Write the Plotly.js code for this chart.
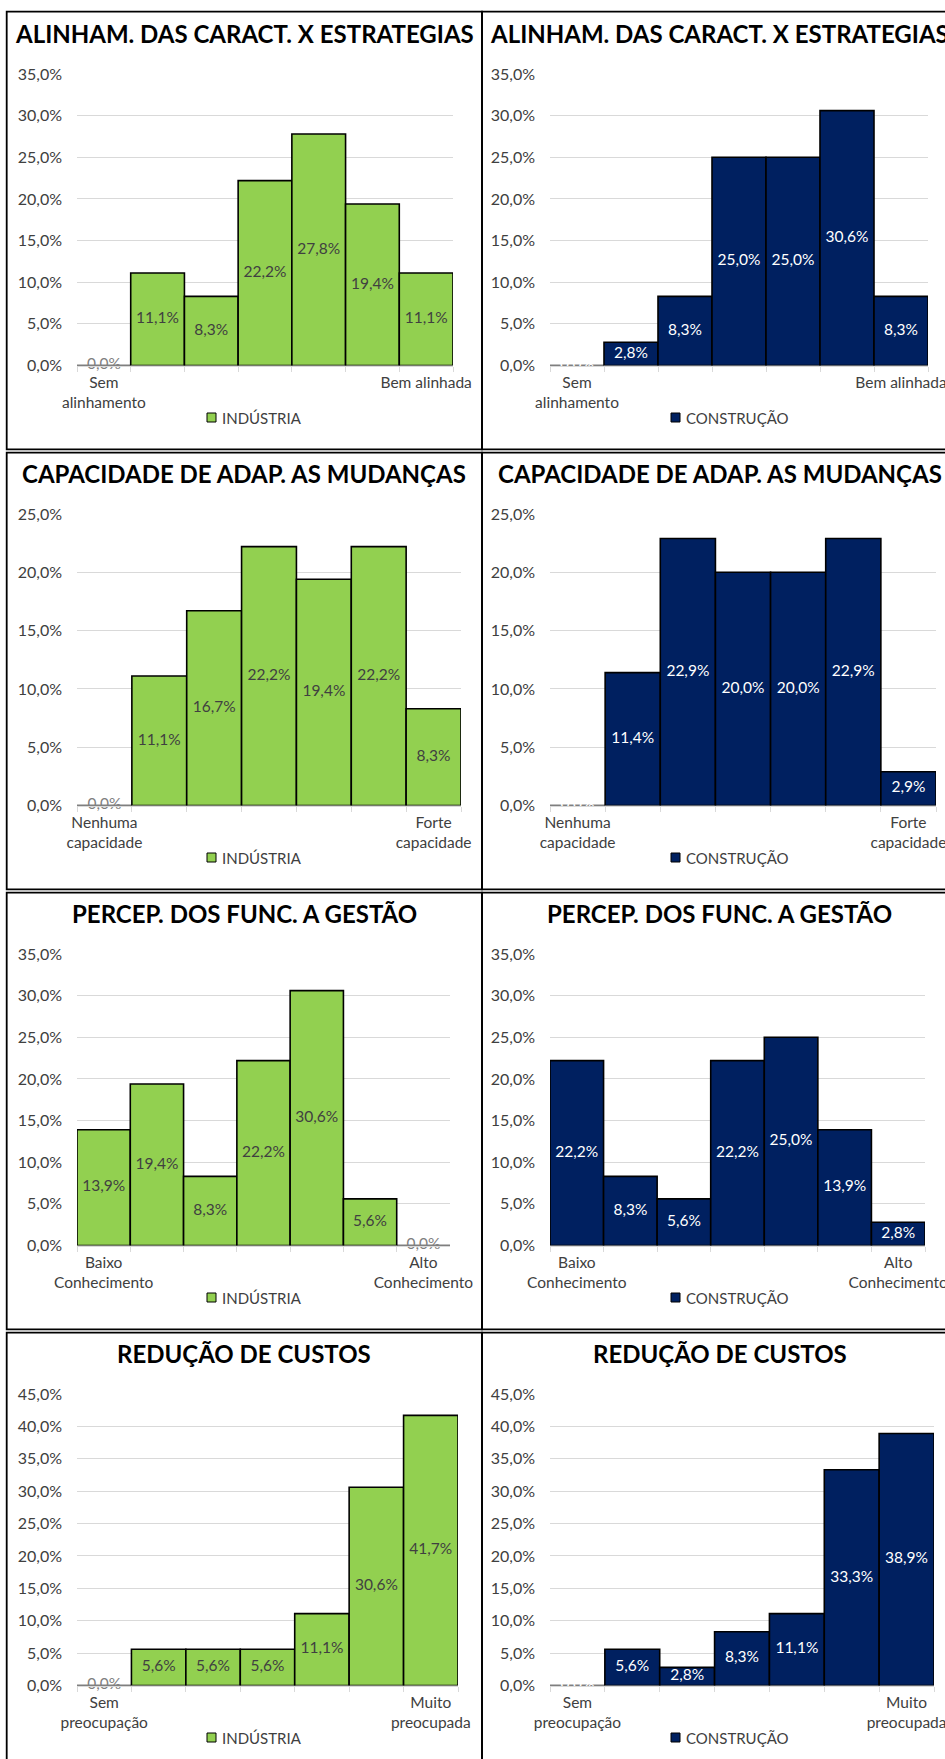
<!DOCTYPE html>
<html>
<head>
<meta charset="utf-8">
<script src="https://cdn.plot.ly/plotly-3.0.1.min.js"></script>
<style>
  html, body { margin: 0; padding: 0; background: #ffffff; }
  #chart { width: 945px; height: 1759px; }
</style>
</head>
<body>
<div id="chart"></div>
<script>
// Response scale: seven points from the lowest to the highest rating
const levels = ['1', '2', '3', '4', '5', '6', '7'];

// Scale end labels (only the first and last points are named)
const ticksAlinhamento = ['Sem<br>alinhamento', '', '', '', '', '', 'Bem alinhada'];
const ticksCapacidade = ['Nenhuma<br>capacidade', '', '', '', '', '', 'Forte<br>capacidade'];
const ticksPercepcao = ['Baixo<br>Conhecimento', '', '', '', '', '', 'Alto<br>Conhecimento'];
const ticksCustos = ['Sem<br>preocupação', '', '', '', '', '', 'Muito<br>preocupada'];

// Share of answers per scale point
const alinhamentoIndustria = [0.000, 0.111, 0.083, 0.222, 0.278, 0.194, 0.111];
const alinhamentoConstrucao = [0.000, 0.028, 0.083, 0.250, 0.250, 0.306, 0.083];
const capacidadeIndustria = [0.000, 0.111, 0.167, 0.222, 0.194, 0.222, 0.083];
const capacidadeConstrucao = [0.000, 0.114, 0.229, 0.200, 0.200, 0.229, 0.029];
const percepcaoIndustria = [0.139, 0.194, 0.083, 0.222, 0.306, 0.056, 0.000];
const percepcaoConstrucao = [0.222, 0.083, 0.056, 0.222, 0.250, 0.139, 0.028];
const custosIndustria = [0.000, 0.056, 0.056, 0.056, 0.111, 0.306, 0.417];
const custosConstrucao = [0.000, 0.056, 0.028, 0.083, 0.111, 0.333, 0.389];

// Chart titles, series names and value axis maxima
const titles = ['ALINHAM. DAS CARACT. X ESTRATEGIAS', 'CAPACIDADE DE ADAP. AS MUDANÇAS',
                'PERCEP. DOS FUNC. A GESTÃO', 'REDUÇÃO DE CUSTOS'];
const seriesNames = ['INDÚSTRIA', 'CONSTRUÇÃO'];
const axisMax = [0.35, 0.25, 0.35, 0.45];

const rowsData = [
  { ticks: ticksAlinhamento, values: [alinhamentoIndustria, alinhamentoConstrucao] },
  { ticks: ticksCapacidade, values: [capacidadeIndustria, capacidadeConstrucao] },
  { ticks: ticksPercepcao, values: [percepcaoIndustria, percepcaoConstrucao] },
  { ticks: ticksCustos, values: [custosIndustria, custosConstrucao] }
];

// ---- page geometry (pixels) ----
const W = 945, H = 1759;
const fx = px => px / W;
const fy = py => 1 - py / H;

const FONT = 'Lato, "Open Sans", sans-serif';
const panelTop = [12, 452, 892, 1332];
const frameTop = [11.7, 452.7, 892.7, 1332.7];
const frameBottom = [449.3, 889.3, 1329.3, 1775];
const colLeft = [6.7, 482];
const colRight = [482, 957];
const plotLeft = [77, 550];
const plotRight = [[453, 928], [461, 936], [450, 925], [458, 934]];
const styles = [
  { bar: '#92D050', label: '#404040', zeroLabel: '#7F7F7F', swatch: 207 },
  { bar: '#002060', label: '#FFFFFF', zeroLabel: '#FFFFFF', swatch: 671 }
];

const traces = [];
const layout = {
  width: W, height: H,
  margin: { l: 0, r: 0, t: 0, b: 0 },
  paper_bgcolor: '#ffffff',
  plot_bgcolor: 'rgba(0,0,0,0)',
  separators: ',.',
  bargap: 0,
  showlegend: false,
  font: { family: FONT, color: '#595959', size: 15 },
  shapes: [],
  annotations: []
};

let n = 0;
rowsData.forEach((row, r) => {
  [0, 1].forEach(c => {
    n += 1;
    const sfx = n === 1 ? '' : String(n);
    const xa = 'x' + sfx, ya = 'y' + sfx;
    const vals = row.values[c];
    const st = styles[c];

    traces.push({
      type: 'bar', name: seriesNames[c], xaxis: xa, yaxis: ya,
      x: levels, y: vals,
      marker: { color: st.bar, line: { color: '#000000', width: 1.6 } },
      hoverinfo: 'skip'
    });
    // value labels, centred inside each column (empty columns sit on the axis)
    traces.push({
      type: 'scatter', mode: 'text', xaxis: xa, yaxis: ya,
      x: levels, y: vals.map(v => v / 2), customdata: vals,
      texttemplate: '%{customdata:.1%}',
      textposition: 'middle center',
      textfont: {
        family: FONT, size: 15.5,
        color: vals.map(v => (v > 0 ? st.label : st.zeroLabel))
      },
      cliponaxis: false, hoverinfo: 'skip'
    });

    const top = panelTop[r];
    layout['xaxis' + sfx] = {
      domain: [fx(plotLeft[c]), fx(plotRight[r][c])],
      anchor: ya, type: 'category',
      range: [-0.5, levels.length - 0.5],
      tickmode: 'array', tickvals: levels, ticktext: row.ticks,
      tickangle: 0,
      tickson: 'boundaries', ticks: 'outside', ticklen: 5,
      tickcolor: '#D9D9D9', tickwidth: 1,
      showline: true, linecolor: '#D9D9D9', linewidth: 1,
      showgrid: false, zeroline: false,
      ticklabelstandoff: 3,
      tickfont: { family: FONT, size: 15.5, color: '#404040' },
      fixedrange: true
    };
    layout['yaxis' + sfx] = {
      domain: [fy(top + 353.5), fy(top + 62)],
      anchor: xa,
      range: [0, axisMax[r]],
      tick0: 0, dtick: 0.05, tickformat: '.1%',
      showgrid: true, gridcolor: '#D9D9D9', gridwidth: 1,
      zeroline: false, showline: false, ticks: '',
      ticklabelstandoff: 14,
      tickfont: { family: FONT, size: 16, color: '#404040' },
      fixedrange: true
    };

    // panel frame
    layout.shapes.push({
      type: 'rect', xref: 'paper', yref: 'paper',
      x0: fx(colLeft[c]), x1: fx(colRight[c]),
      y0: fy(frameBottom[r]), y1: fy(frameTop[r]),
      line: { color: '#000000', width: 1.8 }, fillcolor: 'rgba(0,0,0,0)'
    });
    // title
    layout.annotations.push({
      xref: 'paper', yref: 'paper',
      x: fx((colLeft[c] + colRight[c]) / 2), y: fy(top + 21.5),
      xanchor: 'center', yanchor: 'middle', showarrow: false,
      text: '<b>' + titles[r] + '</b>',
      font: { family: FONT, size: 24, color: '#000000' }
    });
    // legend key
    layout.shapes.push({
      type: 'rect', xref: 'paper', yref: 'paper',
      x0: fx(st.swatch), x1: fx(st.swatch + 9),
      y0: fy(top + 410), y1: fy(top + 401),
      line: { color: '#000000', width: 1 }, fillcolor: st.bar
    });
    layout.annotations.push({
      xref: 'paper', yref: 'paper',
      x: fx(st.swatch + 13), y: fy(top + 406),
      xanchor: 'left', yanchor: 'middle', showarrow: false,
      text: seriesNames[c],
      font: { family: FONT, size: 15, color: '#404040' }
    });
  });
});

Plotly.newPlot('chart', traces, layout, { staticPlot: true, displayModeBar: false });
</script>
</body>
</html>
